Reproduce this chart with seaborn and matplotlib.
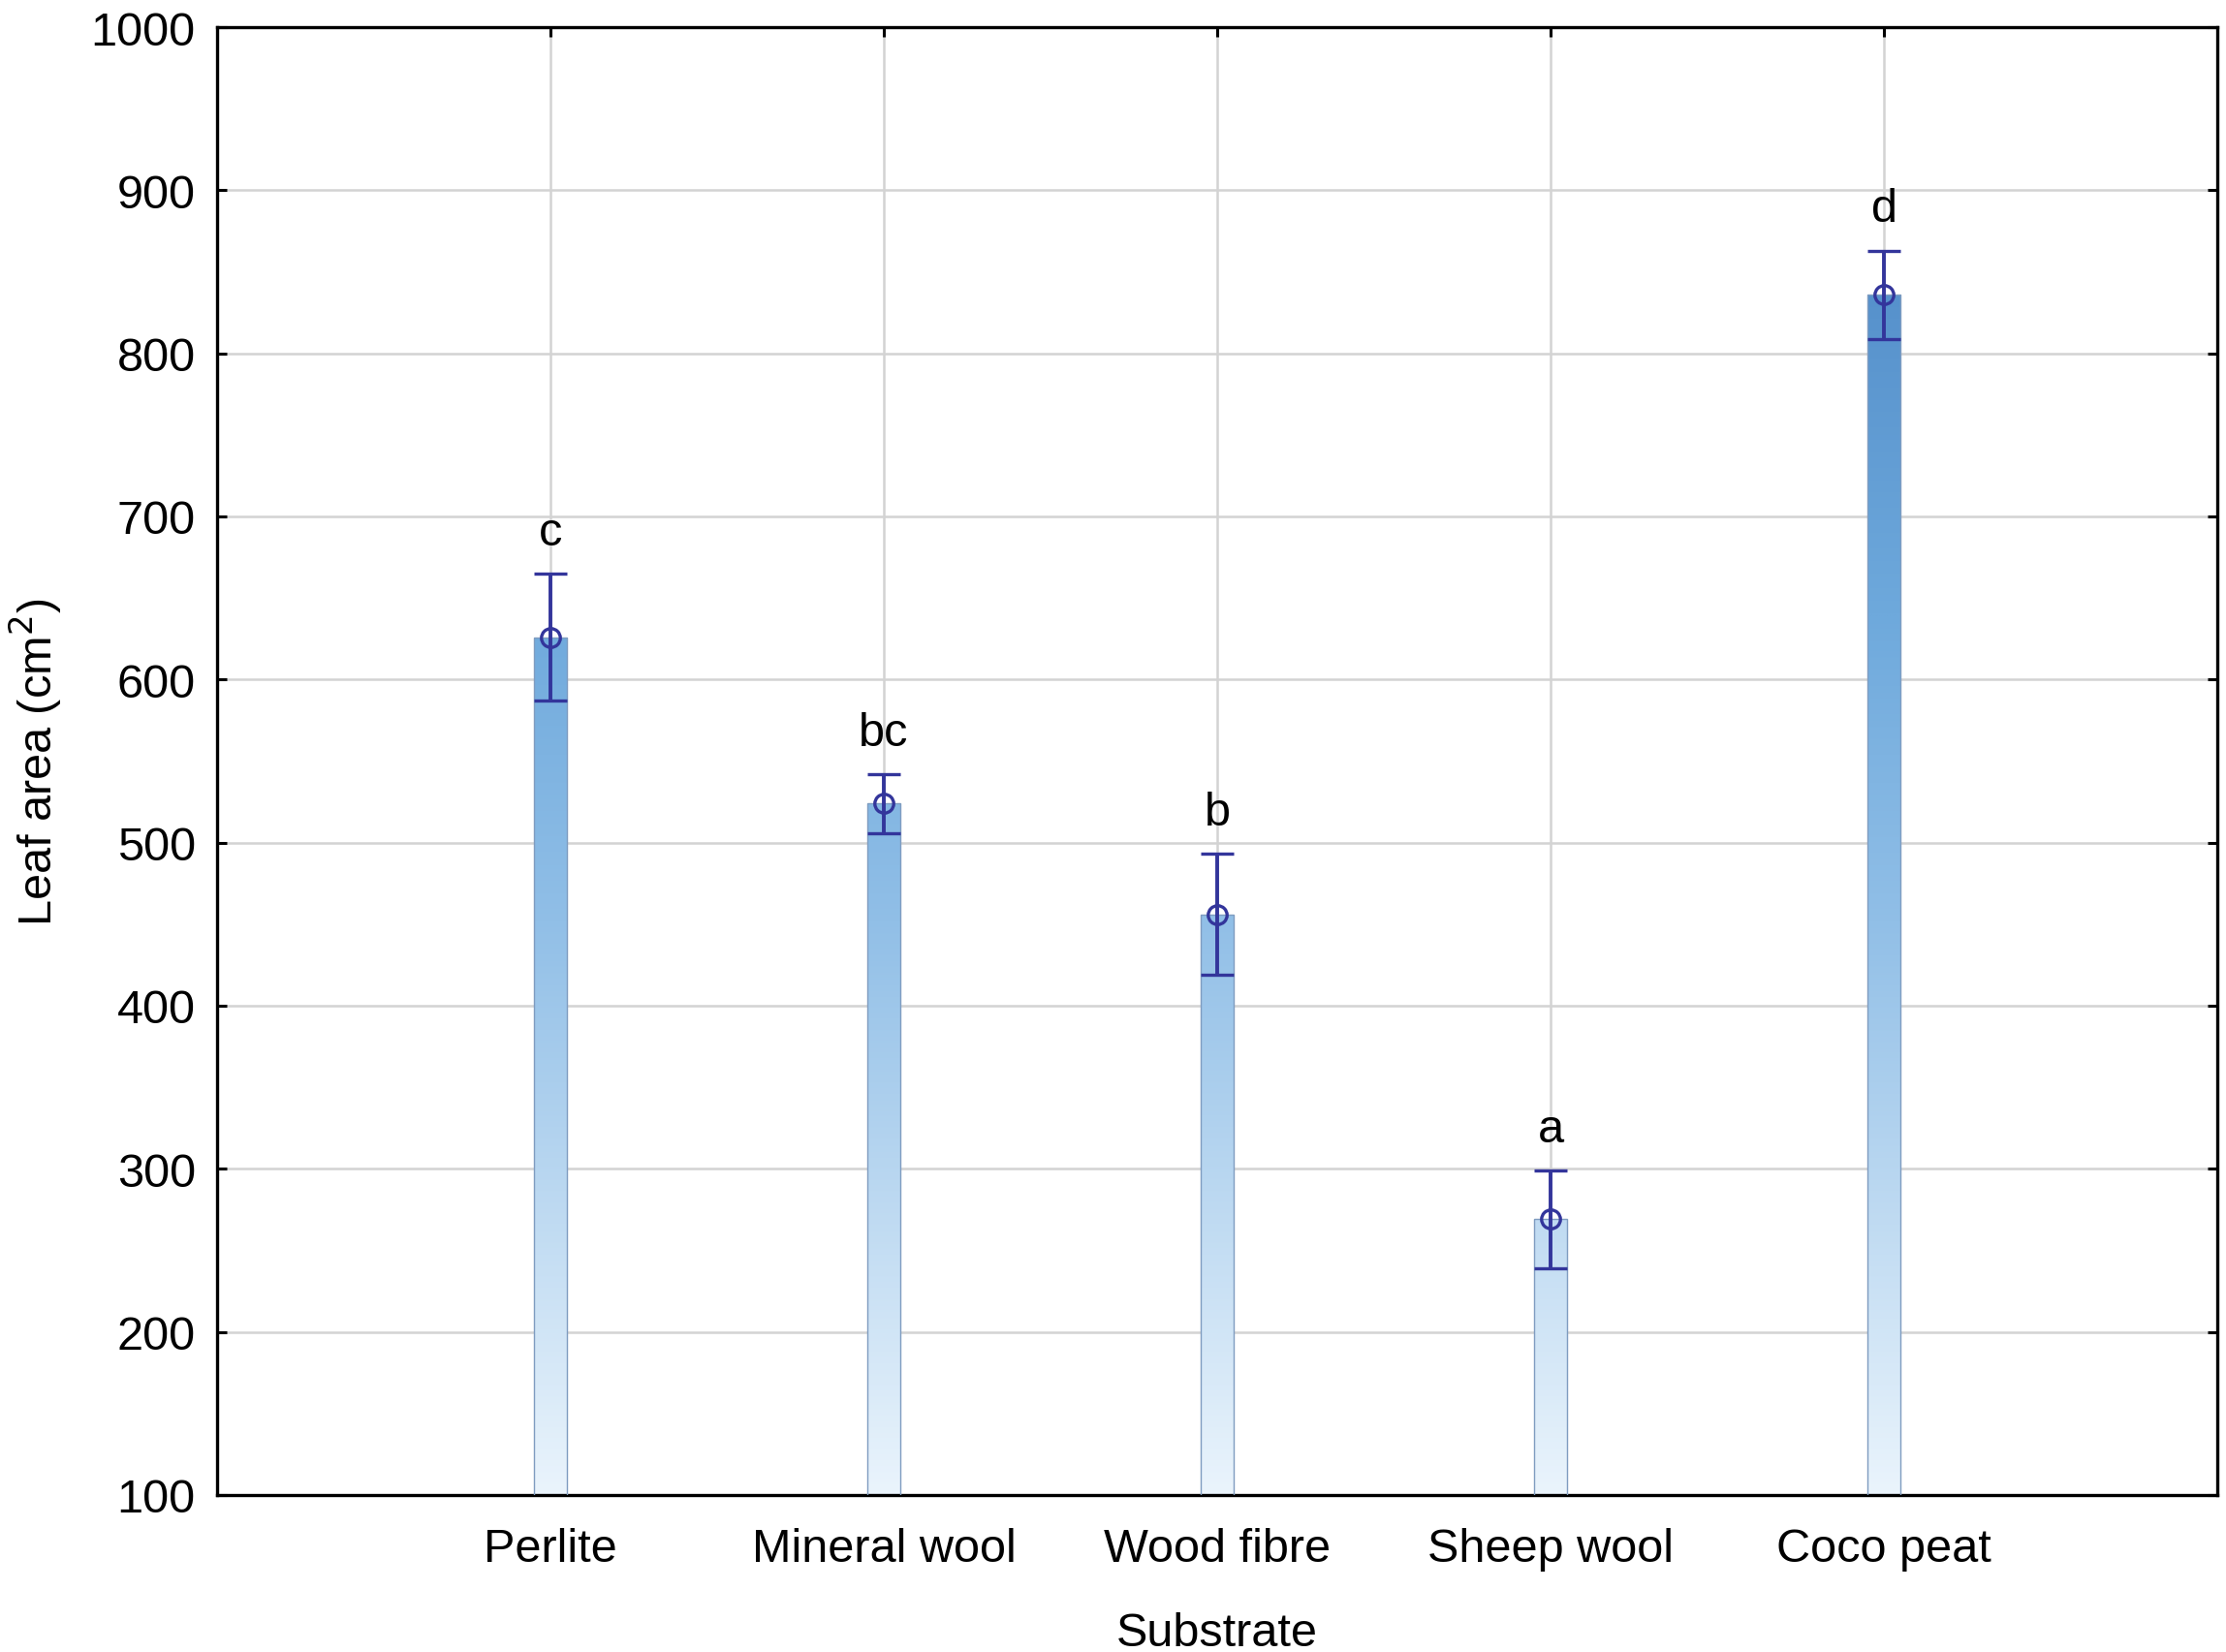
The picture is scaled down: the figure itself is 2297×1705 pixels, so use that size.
import numpy as np
import pandas as pd
import matplotlib
matplotlib.use("Agg")
import matplotlib.pyplot as plt
from matplotlib.colors import LinearSegmentedColormap
import seaborn as sns

# ---- data ----
substrates = ["Perlite", "Mineral wool", "Wood fibre", "Sheep wool", "Coco peat"]
leaf_area = [626, 524, 456, 269, 836]
error = [39, 18, 37, 30, 27]
letters = ["c", "bc", "b", "a", "d"]
y_ticks = [100, 200, 300, 400, 500, 600, 700, 800, 900, 1000]

df = pd.DataFrame({"Substrate": substrates, "Leaf area": leaf_area})

sns.set_theme(style="white")
plt.rcParams["font.family"] = ["Liberation Sans", "DejaVu Sans"]
plt.rcParams["text.color"] = "black"
plt.rcParams["axes.labelcolor"] = "black"
plt.rcParams["xtick.color"] = "black"
plt.rcParams["ytick.color"] = "black"

fig = plt.figure(figsize=(22.97, 17.06), dpi=100)
ax = fig.add_axes([0.0975, 0.095, 0.8986, 0.888])

sns.barplot(data=df, x="Substrate", y="Leaf area", width=0.1, ax=ax,
            color="#90bfe6", errorbar=None, zorder=2)

cmap = LinearSegmentedColormap.from_list(
    "grad", [(0.0, "#eaf4fc"), (0.39, "#91bfe7"), (0.6, "#6ea9dc"),
             (0.83, "#5590cb"), (1.0, "#4a86c4")])
grad = np.linspace(100, 1000, 512).reshape(-1, 1)

centers = []
for p in ax.patches:
    x0 = p.get_x()
    w = p.get_width()
    centers.append(x0 + w / 2)
    p.set_facecolor("none")
    p.set_edgecolor("#7f9cc0")
    p.set_linewidth(1.0)
    p.set_zorder(3)
    im = ax.imshow(grad, extent=[x0, x0 + w, 100, 1000], origin="lower",
                   cmap=cmap, vmin=100, vmax=1000, aspect="auto", zorder=2.5,
                   interpolation="bilinear")
    im.set_clip_path(p)

ax.errorbar(centers, leaf_area, yerr=error, fmt="o", color="#33359b",
            ecolor="#33359b", elinewidth=2.8, capsize=12.2, capthick=2.8,
            markersize=14, markerfacecolor="none", markeredgewidth=2.4,
            markeredgecolor="#33359b", zorder=5)

for xc, v, e, lab in zip(centers, leaf_area, error, letters):
    ax.text(xc, v + e + 18, lab, ha="center", va="baseline", fontsize=35,
            color="black", zorder=6)

ax.set_xlim(-1, 5)
ax.set_ylim(100, 1000)
ax.set_yticks(y_ticks)
ax.set_yticklabels([str(t) for t in y_ticks])

ax.grid(True, color="#d3d3d3", linewidth=1.8, zorder=0)
ax.set_axisbelow(True)

for s in ax.spines.values():
    s.set_visible(True)
    s.set_color("black")
    s.set_linewidth(2.4)

ax.tick_params(axis="both", which="both", direction="in", length=7, width=2.2,
               color="black", labelcolor="black",
               top=True, right=True, bottom=True, left=True)
ax.tick_params(axis="y", labelsize=35, pad=16)
ax.tick_params(axis="x", labelsize=35, pad=24)

ax.set_xlabel("Substrate", fontsize=35, labelpad=30, color="black")
ax.set_ylabel("Leaf area (cm$^2$)", fontsize=35, labelpad=20, color="black")

fig.savefig("out.png", dpi=100)
